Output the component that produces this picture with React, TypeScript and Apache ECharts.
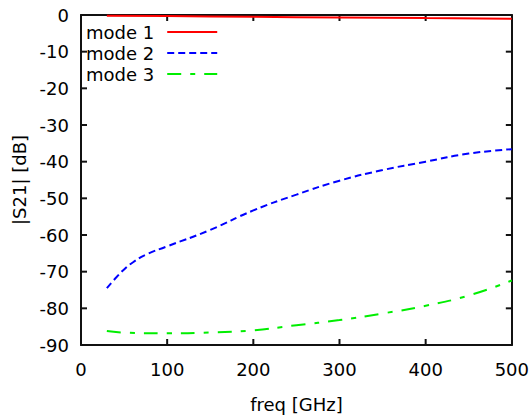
import React, { useEffect, useRef } from "react";
import * as echarts from "echarts";

const mode1Freq = [30, 100, 200, 300, 400, 500];
const mode1Vals = [-0.2, -0.3, -0.5, -0.65, -0.8, -1.0];

const mode2Freq = [30, 40, 50, 60, 75, 100, 150, 200, 250, 300, 350, 400, 450, 500];
const mode2Vals = [-74.5, -71.8, -69.4, -67.5, -65.4, -63.1, -58.6, -53.3, -49, -45.2, -42.3, -40, -37.8, -36.6];

const mode3Freq = [30, 50, 100, 150, 200, 250, 300, 350, 400, 450, 500];
const mode3Vals = [-86.2, -86.6, -86.8, -86.6, -86, -84.6, -83.2, -81.4, -79.3, -76.5, -72.4];

const seriesNames = ["mode 1", "mode 2", "mode 3"];

const xTicks = [100, 200, 300, 400];
const yTicks = [-80, -70, -60, -50, -40, -30, -20, -10];
const X_MIN = 0;
const X_MAX = 500;
const Y_MIN = -90;
const Y_MAX = 0;

const FONT = "DejaVu Sans";
const TICK_LEN = 6;

function pairs(xs: number[], ys: number[]) {
  return xs.map((x, i) => [x, ys[i]]);
}

function mkLine() {
  return { show: true, onZero: false, lineStyle: { color: "#111", width: 2 } };
}

const tickStyle = { stroke: "#111", lineWidth: 2 };

export default function App() {
  const ref = useRef<HTMLDivElement>(null);
  useEffect(() => {
    if (!ref.current) return;
    const chart = echarts.init(ref.current, null, { renderer: "svg" });
    chart.setOption({
      animation: false,
      backgroundColor: "#fff",
      grid: { left: 81, right: 19, top: 15, bottom: 75, containLabel: false },
      legend: {
        orient: "vertical",
        left: 81,
        top: 18,
        align: "right",
        itemWidth: 50,
        itemHeight: 14,
        itemGap: 3,
        itemStyle: { opacity: 0 },
        textStyle: { fontFamily: FONT, fontSize: 18, color: "#000", padding: [0, 8, 0, 0] },
        data: seriesNames,
      },
      xAxis: [
        {
          type: "value",
          min: X_MIN,
          max: X_MAX,
          interval: 100,
          position: "bottom",
          name: "freq [GHz]",
          nameLocation: "middle",
          nameGap: 50,
          nameTextStyle: { fontFamily: FONT, fontSize: 18, color: "#000" },
          axisLine: mkLine(),
          axisTick: { show: false },
          axisLabel: { fontFamily: FONT, fontSize: 18, color: "#000", margin: 15 },
          splitLine: { show: false },
        },
        {
          type: "value",
          min: X_MIN,
          max: X_MAX,
          interval: 100,
          position: "top",
          axisLine: mkLine(),
          axisTick: { show: false },
          axisLabel: { show: false },
          splitLine: { show: false },
        },
      ],
      yAxis: [
        {
          type: "value",
          min: Y_MIN,
          max: Y_MAX,
          interval: 10,
          position: "left",
          name: "|S21| [dB]",
          nameLocation: "middle",
          nameGap: 52,
          nameTextStyle: { fontFamily: FONT, fontSize: 18, color: "#000" },
          axisLine: mkLine(),
          axisTick: { show: false },
          axisLabel: { fontFamily: FONT, fontSize: 18, color: "#000", margin: 12 },
          splitLine: { show: false },
        },
        {
          type: "value",
          min: Y_MIN,
          max: Y_MAX,
          interval: 10,
          position: "right",
          axisLine: mkLine(),
          axisTick: { show: false },
          axisLabel: { show: false },
          splitLine: { show: false },
        },
      ],
      series: [
        {
          name: seriesNames[0],
          type: "line",
          smooth: true,
          showSymbol: false,
          symbol: "none",
          data: pairs(mode1Freq, mode1Vals),
          lineStyle: { color: "#ff0000", width: 2 },
          itemStyle: { color: "#ff0000" },
        },
        {
          name: seriesNames[1],
          type: "line",
          smooth: true,
          showSymbol: false,
          symbol: "none",
          data: pairs(mode2Freq, mode2Vals),
          lineStyle: { color: "#0000ff", width: 2, type: [7, 4] },
          itemStyle: { color: "#0000ff" },
        },
        {
          name: seriesNames[2],
          type: "line",
          smooth: true,
          showSymbol: false,
          symbol: "none",
          data: pairs(mode3Freq, mode3Vals),
          lineStyle: { color: "#00ee00", width: 2, type: [14, 9, 5, 9] },
          itemStyle: { color: "#00ee00" },
        },
        {
          name: "xticks",
          type: "custom",
          silent: true,
          clip: false,
          data: xTicks.map((v) => [v, Y_MIN]),
          renderItem: (params: any, api: any) => {
            const v = api.value(0);
            const b = api.coord([v, Y_MIN]);
            const t = api.coord([v, Y_MAX]);
            return {
              type: "group",
              children: [
                { type: "line", shape: { x1: b[0], y1: b[1], x2: b[0], y2: b[1] - TICK_LEN }, style: tickStyle },
                { type: "line", shape: { x1: t[0], y1: t[1], x2: t[0], y2: t[1] + TICK_LEN }, style: tickStyle },
              ],
            };
          },
        },
        {
          name: "yticks",
          type: "custom",
          silent: true,
          clip: false,
          data: yTicks.map((v) => [X_MIN, v]),
          renderItem: (params: any, api: any) => {
            const v = api.value(1);
            const l = api.coord([X_MIN, v]);
            const r = api.coord([X_MAX, v]);
            return {
              type: "group",
              children: [
                { type: "line", shape: { x1: l[0], y1: l[1], x2: l[0] + TICK_LEN, y2: l[1] }, style: tickStyle },
                { type: "line", shape: { x1: r[0], y1: r[1], x2: r[0] - TICK_LEN, y2: r[1] }, style: tickStyle },
              ],
            };
          },
        },
      ],
    });
    return () => chart.dispose();
  }, []);
  return <div ref={ref} style={{ width: 532, height: 420, position: "absolute", left: 0, top: 0 }} />;
}
